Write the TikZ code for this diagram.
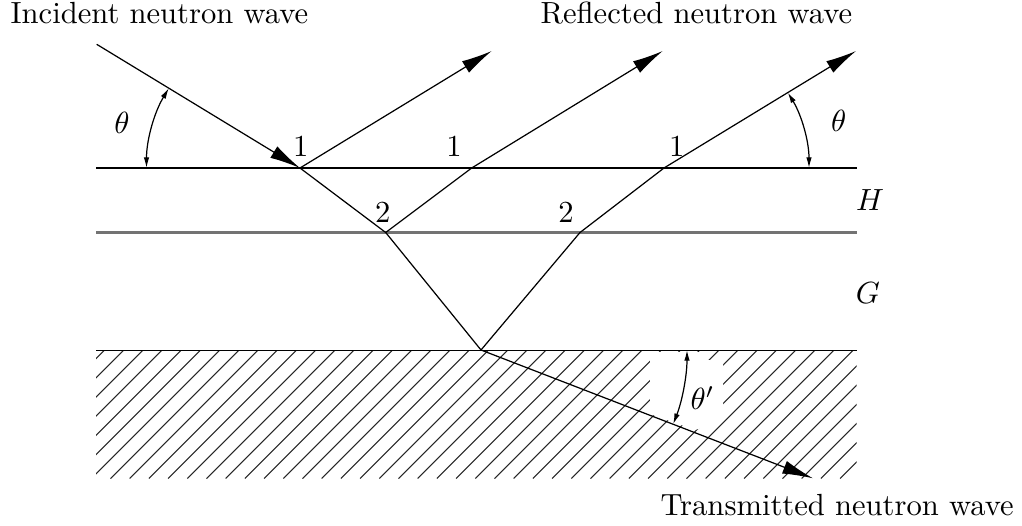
\documentclass[tikz,border=0pt]{standalone}
\usetikzlibrary{arrows.meta}
\begin{document}
\begin{tikzpicture}[x=0.3268pt,y=-0.3268pt,
  ray/.style={line width=0.4pt},
  bigarrow/.style={ray,-{Latex[length=10pt,width=4.4pt]}},
  anglearc/.style={line width=0.4pt,{Latex[length=3.5pt,width=1.8pt]}-{Latex[length=3.5pt,width=1.8pt]}},
  interface/.style={line width=0.45pt},
  grayline/.style={line width=0.7pt,black!55},
  hatchline/.style={line width=0.35pt,black!85},
  lbl/.style={inner sep=0pt}]
\useasboundingbox (0,0) rectangle (1022,525);
% points
\coordinate (S) at (96.7,44.3);
\coordinate (A) at (300,168);
\coordinate (B) at (385.7,232.5);
\coordinate (C) at (481,350);
\coordinate (D) at (580,232.5);
\coordinate (E) at (471.7,168);
\coordinate (F) at (664,168);
\coordinate (R1) at (491.7,51);
\coordinate (R2) at (662.7,51);
\coordinate (R3) at (856,51);
\coordinate (T) at (813,478.3);
\coordinate (L1a) at (96,168);
\coordinate (L1b) at (856.7,168);
\coordinate (L2a) at (96,232.5);
\coordinate (L2b) at (856.7,232.5);
\coordinate (L3a) at (96,350.5);
\coordinate (L3b) at (856.7,350.5);
% hatching
\begin{scope}
\clip (96,350.5) rectangle (856.7,478.3);
\foreach \k in {4,...,51} \draw[hatchline] ({8.1+19.2*\k},350.5) -- ++(-128,128);
\end{scope}
\fill[white] (650,352) -- (700,352) -- (700,360) -- (723,360) -- (723,421) -- (695,430) -- (650,414) -- cycle;
% interfaces
\draw[interface] (L1a) -- (L1b);
\draw[grayline] (L2a) -- (L2b);
\draw[interface] (L3a) -- (L3b);
% rays
\draw[bigarrow] (S) -- (A);
\draw[bigarrow] (A) -- (R1);
\draw[ray] (A) -- (B) -- (C) -- (D) -- (F);
\draw[ray] (B) -- (E);
\draw[bigarrow] (E) -- (R2);
\draw[bigarrow] (F) -- (R3);
\draw[bigarrow] (C) -- (T);
% angle arcs
\draw[anglearc] (A) ++(180:153.5) arc[start angle=180,end angle=211.3,radius=153.5];
\draw[anglearc] (F) ++(0:145) arc[start angle=0,end angle=-31.4,radius=145];
\draw[anglearc] (C) ++(0:206) arc[start angle=0,end angle=21.1,radius=206];
% labels
\node[lbl,anchor=base west] (inc) at (10,23.3) {Incident neutron wave};
\node[lbl,anchor=base west] (refl) at (540,23.3) {Reflected neutron wave};
\node[lbl,anchor=base west] (trans) at (660,515) {Transmitted neutron wave};
\node[lbl] (n1a) at (300.8,146.7) {1};
\node[lbl] (n1b) at (454,146.7) {1};
\node[lbl] (n1c) at (676.7,146.7) {1};
\node[lbl] (n2a) at (382.7,212.7) {2};
\node[lbl] (n2b) at (566,212.7) {2};
\node[lbl] (th1) at (122,122.5) {$\theta$};
\node[lbl] (th2) at (838.8,121) {$\theta$};
\node[lbl] (th3) at (702.5,398) {$\theta'$};
\node[lbl] (H) at (870,200) {$H$};
\node[lbl] (G) at (868,293) {$G$};
\end{tikzpicture}
\end{document}
